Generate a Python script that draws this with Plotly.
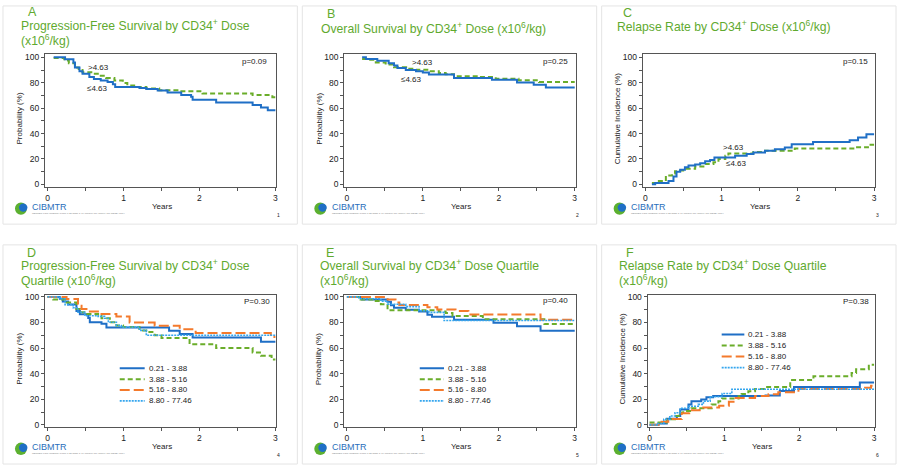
import plotly.graph_objects as go

W, H = 900, 470
FONT = "Liberation Sans, Arial, Helvetica, sans-serif"
TXT = "#222222"
AXC = "#555555"
BLUE = "#1f6fc6"
GREEN = "#6aad2a"
ORANGE = "#f47a2c"
LBLUE = "#35a6ee"
TITLE_G = "#5faa2f"

# ---------------- data ----------------
years_ticks = [0, 1, 2, 3]
years_minor = [0.5, 1.5, 2.5]
pct_ticks = [0, 20, 40, 60, 80, 100]
pct_minor = [10, 30, 50, 70, 90]
dose_groups = [">4.63", "≤4.63"]
quartile_labels = ["0.21 - 3.88", "3.88 - 5.16", "5.16 - 8.80", "8.80 - 77.46"]
p_values = ["p=0.09", "p=0.25", "p=0.15", "P=0.30", "p=0.40", "P=0.38"]
letters = ["A", "B", "C", "D", "E", "F"]
title_lines = [
    ["Progression-Free Survival by CD34<sup>+</sup> Dose", "(x10<sup>6</sup>/kg)"],
    ["Overall Survival by CD34<sup>+</sup> Dose (x10<sup>6</sup>/kg)"],
    ["Relapse Rate by CD34<sup>+</sup> Dose (x10<sup>6</sup>/kg)"],
    ["Progression-Free Survival by CD34<sup>+</sup> Dose", "Quartile (x10<sup>6</sup>/kg)"],
    ["Overall Survival by CD34<sup>+</sup> Dose Quartile", "(x10<sup>6</sup>/kg)"],
    ["Relapse Rate by CD34<sup>+</sup> Dose Quartile", "(x10<sup>6</sup>/kg)"],
]
y_titles = ["Probability (%)", "Probability (%)", "Cumulative Incidence (%)",
            "Probability (%)", "Probability (%)", "Cumulative Incidence (%)"]

# A: PFS by dose
pfs_low_t = [0.08, 0.23, 0.34, 0.36, 0.42, 0.46, 0.55, 0.61, 0.70, 0.79, 0.86, 0.89, 1.21, 1.30,
             1.45, 1.58, 1.76, 1.89, 1.91, 2.22, 2.70, 2.81, 2.90, 3.00]
pfs_low_v = [100, 98.5, 96, 92, 89, 87, 84.5, 83, 81.8, 80.5, 78.7, 76.7, 75.8, 75,
             73.8, 72.3, 70.3, 69, 66.5, 64.5, 62.5, 60.5, 58.3, 58.3]
pfs_high_t = [0.08, 0.22, 0.28, 0.36, 0.41, 0.46, 0.59, 0.70, 0.77, 0.88, 0.99, 1.05, 1.14, 1.30,
              1.47, 1.73, 2.04, 2.70, 2.96, 3.00]
pfs_high_v = [99.5, 97.4, 95.3, 92, 90, 88.2, 87, 85.4, 83.8, 81.8, 79.7, 77.9, 76.7, 75.4,
              74.1, 73.3, 71.5, 70.3, 68.5, 68.5]

# B: OS by dose
os_low_t = [0.20, 0.25, 0.40, 0.55, 0.62, 0.665, 0.775, 0.91, 1.00, 1.08, 1.41, 1.91, 2.24, 2.46, 2.62, 3.00]
os_low_v = [100, 98.7, 97.2, 95.3, 93.5, 91.5, 90, 89, 88, 86.5, 83.8, 82.3, 80.2, 78.3, 76.3, 76.3]
os_high_t = [0.20, 0.29, 0.38, 0.51, 0.62, 0.78, 0.91, 1.08, 1.21, 1.30, 1.41, 1.74, 1.96, 2.26, 2.53, 3.00]
os_high_v = [98.7, 98, 96, 94.3, 92.2, 91, 90.2, 89, 87.6, 86.6, 85, 84.4, 83.2, 81.9, 80.5, 80.5]

# C: relapse by dose
rel_low_t = [0.087, 0.13, 0.305, 0.37, 0.41, 0.458, 0.52, 0.567, 0.654, 0.72, 0.785, 0.85, 0.907,
             1.178, 1.33, 1.418, 1.57, 1.70, 1.83, 1.92, 2.20, 2.68, 2.79, 2.90, 3.00]
rel_low_v = [0, 1, 2.6, 6.2, 10, 11.5, 13.5, 14.8, 15.6, 16.6, 18.2, 19.2, 21.2,
             22.5, 23.8, 25.1, 26.4, 27.7, 29, 31.6, 33.4, 34.7, 36.8, 39.4, 39.4]
rel_high_t = [0.087, 0.15, 0.27, 0.35, 0.39, 0.437, 0.52, 0.654, 0.785, 0.894, 0.96, 1.05, 1.09,
              1.418, 1.57, 1.96, 2.75, 2.92, 3.00]
rel_high_v = [1, 2.6, 7, 8.5, 10.4, 11, 12.2, 14, 16.1, 17.4, 20, 22.5, 24.3,
              25.4, 26.4, 28.2, 29.2, 31.2, 31.2]

# D: PFS by quartile
pfsq1_t = [0, 0.16, 0.20, 0.27, 0.38, 0.425, 0.535, 0.556, 0.71, 0.775, 1.60, 1.74, 1.91, 2.81, 3.0]
pfsq1_v = [100, 98.5, 96.5, 94, 89, 86.5, 83.5, 80.2, 79, 76, 73.5, 71, 68.3, 65, 65]
pfsq2_t = [0, 0.074, 0.25, 0.38, 0.425, 0.51, 0.665, 0.71, 0.82, 0.906, 0.994, 1.21, 1.30, 1.41,
           1.50, 1.87, 2.22, 2.70, 2.81, 2.95, 3.0]
pfsq2_v = [100, 98, 95.7, 90.5, 88, 86.6, 85.3, 83.3, 80.2, 77.7, 76.4, 73.8, 72.5, 70,
           67.9, 63, 60, 56.5, 54, 51, 51]
pfsq3_t = [0, 0.25, 0.40, 0.447, 0.535, 0.71, 0.906, 1.08, 1.41, 1.74, 1.95, 2.94, 3.0]
pfsq3_v = [100, 98.3, 93, 90.5, 88.5, 86.6, 84.6, 80, 77.5, 74.8, 71.8, 68.6, 68.6]
pfsq4_t = [0, 0.16, 0.23, 0.336, 0.40, 0.49, 0.665, 0.75, 0.80, 0.906, 0.97, 1.21, 1.30, 3.0]
pfsq4_v = [100, 98.5, 94, 91.5, 88, 85.3, 84.8, 83.3, 80.2, 77.7, 76.4, 73.8, 70, 70]

# E: OS by quartile
osq1_t = [0, 0.20, 0.535, 0.58, 0.62, 0.775, 0.95, 1.06, 1.12, 1.41, 1.93, 2.24, 2.55, 3.0]
osq1_v = [100, 98, 96.2, 93.5, 91.5, 90, 88.5, 86, 84.5, 82.2, 79.8, 77, 73.5, 73.5]
osq2_t = [0, 0.18, 0.336, 0.447, 0.535, 1.21, 1.30, 1.39, 1.79, 2.60, 3.0]
osq2_v = [100, 98, 96.7, 94.2, 89.5, 88.5, 87.5, 85, 82.5, 78.8, 78.8]
osq3_t = [0, 0.535, 0.64, 0.69, 1.06, 1.19, 1.43, 1.60, 2.55, 3.0]
osq3_v = [100, 98, 95.7, 93.7, 91.9, 90.2, 89, 86.3, 82.2, 82.2]
osq4_t = [0, 0.16, 0.447, 0.535, 0.775, 0.95, 1.08, 1.28, 3.0]
osq4_v = [100, 98.5, 96.7, 94.2, 92.4, 89.2, 87.9, 81.5, 81.5]

# F: relapse by quartile
relq1_t = [0, 0.12, 0.23, 0.365, 0.41, 0.52, 0.56, 0.69, 0.76, 0.85, 1.55, 1.74, 1.93, 2.81, 3.0]
relq1_v = [0, 1, 4.8, 6.9, 12, 15.9, 18.5, 19.8, 21.6, 22.5, 23, 26.5, 29.5, 33, 33]
relq2_t = [0, 0.23, 0.34, 0.39, 0.45, 0.56, 0.83, 0.92, 0.97, 1.19, 1.23, 1.32, 1.41, 1.54,
           1.88, 2.19, 2.70, 2.76, 2.93, 3.0]
relq2_v = [1.8, 4.3, 6.9, 9.5, 10.8, 12.9, 15.9, 18.5, 20.6, 22.4, 24.2, 26.2, 28, 29.5,
           35, 38, 40.5, 43.5, 47, 47]
relq3_t = [0, 0.16, 0.25, 0.43, 0.53, 0.67, 0.93, 1.06, 1.15, 1.41, 1.59, 1.72, 1.99, 2.88, 2.96, 3.0]
relq3_v = [0, 2.5, 4.5, 9, 11.5, 13.5, 15, 18, 21, 22.5, 24, 25.5, 28, 29, 30.5, 30.5]
relq4_t = [0, 0.10, 0.19, 0.27, 0.34, 0.41, 0.52, 0.65, 0.72, 0.81, 0.97, 1.10, 3.0]
relq4_v = [0, 1, 4.3, 6.9, 9.5, 13, 14.5, 16, 18.5, 22, 24.5, 27.8, 27.8]

# ---------------- styles / layout geometry (pixels) ----------------
STY_BLUE = dict(color=BLUE, width=2)
STY_GREEN = dict(color=GREEN, width=2, dash="5px,3px")
STY_ORANGE = dict(color=ORANGE, width=2, dash="10px,4px")
STY_LBLUE = dict(color=LBLUE, width=1.6, dash="2px,1px")
quart_styles = [STY_BLUE, STY_GREEN, STY_ORANGE, STY_LBLUE]

row1 = dict(T=52, B=186, y100=55, y0=183.7)
row2 = dict(T=296, B=429, y100=297.7, y0=427.3)
geo = [
    dict(L=45, R=277, x0=47.7, x3=276, **row1),
    dict(L=345, R=577, x0=347.7, x3=576, **row1),
    dict(L=644, R=877, x0=646.7, x3=876, **row1),
    dict(L=45, R=277, x0=47.7, x3=276, **row2),
    dict(L=345, R=577, x0=347.7, x3=576, **row2),
    dict(L=649, R=877, x0=651, x3=876, **row2),
]

series = [
    [(pfs_high_t, pfs_high_v, STY_GREEN), (pfs_low_t, pfs_low_v, STY_BLUE)],
    [(os_high_t, os_high_v, STY_GREEN), (os_low_t, os_low_v, STY_BLUE)],
    [(rel_high_t, rel_high_v, STY_GREEN), (rel_low_t, rel_low_v, STY_BLUE)],
    [(pfsq1_t, pfsq1_v, STY_BLUE), (pfsq2_t, pfsq2_v, STY_GREEN),
     (pfsq3_t, pfsq3_v, STY_ORANGE), (pfsq4_t, pfsq4_v, STY_LBLUE)],
    [(osq1_t, osq1_v, STY_BLUE), (osq2_t, osq2_v, STY_GREEN),
     (osq3_t, osq3_v, STY_ORANGE), (osq4_t, osq4_v, STY_LBLUE)],
    [(relq1_t, relq1_v, STY_BLUE), (relq2_t, relq2_v, STY_GREEN),
     (relq3_t, relq3_v, STY_ORANGE), (relq4_t, relq4_v, STY_LBLUE)],
]

# letter position (x, y centre), title left x, title line centres y
title_pos = [
    ((27, 9.5), 20, [22, 37]),
    ((327, 11.5), 320.5, [25]),
    ((623, 10.5), 617, [23]),
    ((26, 253.5), 20, [265.5, 280.5]),
    ((326, 253.5), 319.5, [265.5, 281]),
    ((626, 253.5), 619.5, [265.5, 280.5]),
]
# dose-group label pixel positions (centre) for A-C
group_label_px = [
    [(99, 65), (98, 87)],
    [(423, 60), (412, 77)],
    [(735, 146), (738, 163)],
]
p_px = [(270, 59), (571.7, 59), (871.7, 59), (272.7, 302), (571.7, 301.5), (872.7, 302)]
# legend (line start x, line end x, text x, first row y, row step)
legend_px = [None, None, None,
             (120, 145, 147, 370, 11), (420.7, 445, 447, 370, 11), (723.3, 746, 748, 335.7, 11.2)]

fig = go.Figure()
shapes = []
annots = []


def px2paper(x, y):
    return x / W, 1 - y / H


def sfx(i):
    return "" if i == 0 else str(i + 1)


layout_axes = {}
for i, g in enumerate(geo):
    pxy = (g["x3"] - g["x0"]) / 3.0
    ppy = (g["y0"] - g["y100"]) / 100.0
    xr = [(g["L"] - g["x0"]) / pxy, 3 + (g["R"] - g["x3"]) / pxy]
    yr = [-(g["B"] - g["y0"]) / ppy, 100 + (g["y100"] - g["T"]) / ppy]
    s = sfx(i)
    common = dict(showline=True, mirror=True, linecolor=AXC, linewidth=1, ticks="outside",
                  ticklen=3, tickwidth=1, tickcolor=AXC, showgrid=False, zeroline=False,
                  tickfont=dict(size=8.5, color=TXT, family=FONT), fixedrange=True)
    layout_axes["xaxis" + s] = dict(
        domain=[g["L"] / W, g["R"] / W], range=xr, anchor="y" + s,
        tickvals=years_ticks, ticktext=[str(v) for v in years_ticks],
        minor=dict(tickvals=years_minor, ticks="outside", ticklen=3, tickcolor=AXC),
        **common)
    layout_axes["yaxis" + s] = dict(
        domain=[1 - g["B"] / H, 1 - g["T"] / H], range=yr, anchor="x" + s,
        tickvals=pct_ticks, ticktext=[str(v) for v in pct_ticks],
        minor=dict(tickvals=pct_minor, ticks="outside", ticklen=3, tickcolor=AXC),
        **common)

    for (t, v, sty) in series[i]:
        fig.add_trace(go.Scatter(x=t, y=v, mode="lines", line=dict(shape="hv", **sty),
                                 xaxis="x" + s, yaxis="y" + s, showlegend=False,
                                 hoverinfo="skip"))

    # card border
    col = i % 3
    row = i // 3
    cx0, cx1 = 3 + 300 * col, 298 + 300 * col
    cy0, cy1 = (3, 224) if row == 0 else (245, 467)
    shapes.append(dict(type="rect", xref="paper", yref="paper",
                       x0=cx0 / W, x1=cx1 / W, y0=1 - cy1 / H, y1=1 - cy0 / H,
                       line=dict(color="#e4e4e4", width=1), layer="below"))

    # letter + title lines
    (lx, ly), tx, tys = title_pos[i]
    px_, py_ = px2paper(lx, ly)
    annots.append(dict(text=letters[i], x=px_, y=py_, xref="paper", yref="paper",
                       xanchor="left", yanchor="middle", showarrow=False, borderpad=0,
                       font=dict(size=12.5, color=TITLE_G, family=FONT)))
    for line, ty in zip(title_lines[i], tys):
        px_, py_ = px2paper(tx, ty)
        annots.append(dict(text=line, x=px_, y=py_, xref="paper", yref="paper",
                           xanchor="left", yanchor="middle", align="left", showarrow=False,
                           borderpad=0, font=dict(size=12.2, color=TITLE_G, family=FONT)))

    # axis titles
    ycen = (g["T"] + g["B"]) / 2 - 2
    px_, py_ = px2paper(g["L"] - 25, ycen)
    annots.append(dict(text=y_titles[i], x=px_, y=py_, xref="paper", yref="paper",
                       textangle=-90, xanchor="center", yanchor="middle", showarrow=False,
                       font=dict(size=8, color=TXT, family=FONT)))
    px_, py_ = px2paper((g["x0"] + g["x3"]) / 2 + 0.5, g["B"] + 20.5)
    annots.append(dict(text="Years", x=px_, y=py_, xref="paper", yref="paper",
                       xanchor="center", yanchor="middle", showarrow=False,
                       font=dict(size=8, color=TXT, family=FONT)))

    # p-value
    ppx, ppy_ = p_px[i]
    annots.append(dict(text=p_values[i], x=(ppx - g["x0"]) / pxy, y=(g["y0"] - ppy_) / ppy,
                       xref="x" + s, yref="y" + s, xanchor="right", yanchor="middle",
                       showarrow=False, font=dict(size=8, color=TXT, family=FONT)))

    # group labels for A-C, legends for D-F
    if i < 3:
        for lab, (gx, gy) in zip(dose_groups, group_label_px[i]):
            annots.append(dict(text=lab, x=(gx - g["x0"]) / pxy, y=(g["y0"] - gy) / ppy,
                               xref="x" + s, yref="y" + s, xanchor="center", yanchor="middle",
                               showarrow=False, font=dict(size=8, color=TXT, family=FONT)))
    else:
        a, b, ttx, ry, step = legend_px[i]
        for k, lab in enumerate(quartile_labels):
            yy = (g["y0"] - (ry + k * step)) / ppy
            sty = quart_styles[k]
            shapes.append(dict(type="line", xref="x" + s, yref="y" + s,
                               x0=(a - g["x0"]) / pxy, x1=(b - g["x0"]) / pxy, y0=yy, y1=yy,
                               line=dict(color=sty["color"], width=sty["width"],
                                         dash=sty.get("dash", "solid"))))
            annots.append(dict(text=lab, x=(ttx - g["x0"]) / pxy, y=yy, xref="x" + s,
                               yref="y" + s, xanchor="left", yanchor="middle",
                               showarrow=False, font=dict(size=8, color=TXT, family=FONT)))

    # CIBMTR logo
    oy = 0 if row == 0 else 243.3
    ox = 300 * col
    shapes.append(dict(type="circle", xref="paper", yref="paper",
                       x0=(ox + 15) / W, x1=(ox + 27) / W,
                       y0=1 - (oy + 214.5) / H, y1=1 - (oy + 202) / H,
                       fillcolor="#5cb030", line=dict(width=0)))
    shapes.append(dict(type="circle", xref="paper", yref="paper",
                       x0=(ox + 19) / W, x1=(ox + 27.5) / W,
                       y0=1 - (oy + 211.5) / H, y1=1 - (oy + 203) / H,
                       fillcolor="#1f6fc6", line=dict(width=0)))
    px_, py_ = px2paper(ox + 31.5, oy + 206.5)
    annots.append(dict(text="CIBMTR", x=px_, y=py_, xref="paper", yref="paper",
                       xanchor="left", yanchor="middle", showarrow=False, borderpad=0,
                       font=dict(size=9, color="#2a6ebb", family=FONT)))
    px_, py_ = px2paper(ox + 31.5, oy + 213.5)
    annots.append(dict(text="CENTER FOR INTERNATIONAL BLOOD & MARROW TRANSPLANT RESEARCH",
                       x=px_, y=py_, xref="paper", yref="paper", xanchor="left",
                       yanchor="middle", align="left", showarrow=False, borderpad=0,
                       font=dict(size=2.5, color="#888888", family=FONT)))
    # page number
    px_, py_ = px2paper(ox + 279, oy + 215)
    annots.append(dict(text=str(i + 1), x=px_, y=py_, xref="paper", yref="paper",
                       xanchor="center", yanchor="middle", showarrow=False,
                       font=dict(size=5, color=TXT, family=FONT)))

fig.update_layout(
    width=W, height=H, margin=dict(l=0, r=0, t=0, b=0),
    paper_bgcolor="white", plot_bgcolor="white",
    font=dict(family=FONT, color=TXT),
    showlegend=False, shapes=shapes, annotations=annots,
    **layout_axes,
)

fig.write_html("out.html", config=dict(displayModeBar=False),
               post_script="document.body.style.margin='0';document.body.style.overflow='hidden';")
